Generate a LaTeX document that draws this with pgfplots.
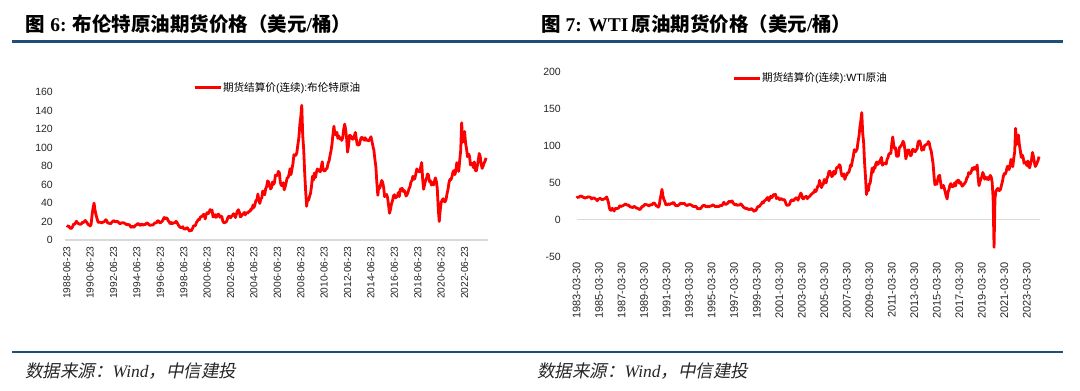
\documentclass[border=0pt]{standalone}
\usepackage{fontspec}
\setmainfont{Liberation Sans}
\newfontfamily\cjk{Noto Sans CJK SC}
\newfontfamily\cjksl{Noto Sans CJK SC}[FakeSlant=0.2]
\newfontfamily\tnr{Liberation Serif}
\usepackage{pgfplots}
\usepackage{pgfplotstable}
\pgfplotsset{compat=1.18}
\definecolor{hdrblue}{RGB}{31,78,121}
\definecolor{zgray}{RGB}{217,217,217}

% Brent monthly, from 1988-06
\pgfplotstableread[row sep=\\]{v\\%
15.7\\14.9\\15.1\\13.6\\12.5\\12.8\\14.6\\%
17.2\\16.9\\18.7\\20.3\\18.6\\17.7\\17.3\\16.9\\17.6\\19.0\\19.0\\19.9\\%
21.2\\19.8\\18.4\\16.6\\16.4\\15.1\\17.2\\27.2\\34.9\\40.0\\32.3\\27.3\\%
23.6\\19.5\\19.1\\19.2\\19.2\\18.3\\19.4\\19.6\\20.2\\22.0\\21.0\\18.5\\%
18.2\\18.0\\17.6\\18.9\\19.9\\21.1\\20.2\\19.7\\20.2\\20.1\\19.1\\18.2\\%
17.5\\18.5\\18.7\\18.6\\18.4\\17.6\\16.8\\16.8\\16.3\\16.9\\15.3\\13.8\\%
14.9\\14.1\\13.9\\15.4\\16.3\\16.8\\17.9\\17.2\\15.9\\16.2\\17.2\\16.0\\%
16.6\\17.0\\16.9\\18.6\\18.1\\17.1\\15.9\\16.0\\16.4\\16.1\\17.0\\18.2\\%
18.6\\18.6\\20.4\\20.9\\19.1\\18.5\\19.6\\20.5\\22.6\\24.5\\23.0\\23.8\\%
23.5\\20.9\\19.6\\17.8\\19.1\\17.6\\18.4\\18.6\\18.6\\20.2\\19.2\\17.1\\%
15.1\\14.1\\13.4\\13.5\\14.4\\12.1\\12.0\\11.9\\13.4\\12.9\\11.0\\9.8\\%
11.1\\10.3\\12.5\\15.3\\15.3\\15.9\\19.1\\20.3\\22.5\\22.0\\24.6\\25.5\\%
25.5\\27.8\\27.5\\22.8\\27.6\\29.7\\28.5\\30.0\\33.0\\31.0\\32.5\\25.0\\%
25.6\\27.5\\24.5\\25.6\\28.1\\27.7\\24.6\\25.6\\25.6\\20.5\\18.8\\18.7\\%
19.4\\20.3\\23.7\\25.7\\25.4\\24.1\\25.7\\26.6\\28.4\\27.5\\24.3\\28.0\\%
31.2\\32.8\\30.4\\25.0\\25.8\\27.6\\28.4\\29.8\\27.1\\29.6\\28.8\\29.8\\%
31.2\\30.9\\33.8\\33.4\\37.9\\35.2\\38.4\\43.0\\43.2\\49.8\\43.1\\39.6\\%
44.5\\45.5\\53.1\\51.9\\49.0\\55.6\\57.9\\64.0\\62.9\\58.5\\55.3\\56.8\\%
62.9\\60.2\\62.1\\70.3\\70.0\\69.8\\74.4\\73.0\\62.7\\58.9\\59.1\\62.1\\%
54.3\\57.8\\62.1\\67.4\\67.5\\71.3\\77.2\\70.8\\77.1\\82.8\\92.5\\91.5\\%
91.9\\94.8\\103.3\\110.4\\124.6\\133.5\\146.0\\113.2\\98.1\\72.8\\53.2\\36.5\\%
44.9\\43.2\\47.3\\50.6\\58.1\\69.1\\64.9\\72.5\\67.7\\73.2\\77.0\\74.7\\%
76.2\\73.8\\78.8\\84.8\\75.9\\74.8\\75.2\\77.0\\77.8\\83.0\\85.6\\91.5\\%
96.5\\103.7\\114.6\\123.3\\114.5\\113.9\\116.7\\110.2\\112.8\\109.6\\110.5\\107.9\\%
110.7\\119.7\\125.5\\119.8\\110.3\\95.2\\102.6\\113.4\\112.9\\111.7\\109.1\\109.5\\%
112.9\\116.5\\109.2\\102.9\\103.0\\103.1\\107.7\\110.9\\111.2\\109.5\\108.1\\110.8\\%
108.1\\108.9\\107.5\\107.8\\109.5\\111.9\\106.8\\101.6\\97.1\\87.4\\79.4\\62.3\\%
48.4\\58.1\\56.0\\60.4\\64.5\\62.3\\56.8\\47.0\\48.5\\49.3\\45.9\\38.0\\%
29.0\\33.3\\39.1\\42.3\\47.6\\49.0\\45.6\\46.6\\47.0\\51.4\\47.1\\54.9\\%
55.5\\55.9\\52.6\\53.8\\51.6\\47.6\\49.2\\51.9\\55.5\\57.7\\62.9\\64.4\\%
69.1\\65.7\\66.7\\71.8\\77.0\\74.4\\74.3\\73.8\\79.1\\84.0\\65.9\\55.0\\%
60.2\\64.4\\67.0\\71.6\\70.3\\63.0\\64.2\\59.5\\62.3\\59.6\\63.2\\67.3\\%
63.6\\55.5\\33.7\\20.0\\32.1\\40.8\\43.2\\44.7\\41.9\\41.4\\44.0\\50.2\\%
55.0\\62.3\\65.7\\65.3\\68.3\\73.4\\75.2\\70.8\\74.6\\83.7\\81.1\\74.3\\%
86.5\\97.1\\127.0\\105.8\\112.0\\117.5\\105.1\\98.6\\90.2\\93.1\\90.9\\81.3\\%
83.1\\82.7\\78.4\\84.6\\75.5\\74.9\\80.1\\86.2\\93.7\\90.6\\82.0\\77.6\\%
80.1\\83.5\\85.4\\89.0\\%
}\brent

% WTI monthly, from 1983-03
\pgfplotstableread[row sep=\\]{v\\%
29.3\\30.6\\30.0\\31.0\\31.7\\31.9\\31.1\\30.4\\29.8\\29.2\\%
29.7\\30.1\\30.8\\30.6\\30.5\\29.9\\28.0\\29.3\\29.4\\28.8\\28.1\\27.3\\%
25.6\\27.3\\28.2\\28.8\\27.9\\27.1\\27.3\\27.8\\28.3\\29.5\\30.8\\27.2\\%
22.9\\15.5\\12.6\\12.8\\15.4\\13.5\\11.6\\15.1\\14.9\\14.9\\15.2\\16.1\\%
18.7\\17.7\\18.3\\18.6\\19.4\\20.0\\21.4\\20.3\\19.5\\19.8\\18.9\\17.2\\%
17.1\\16.7\\16.2\\17.9\\17.4\\16.5\\15.5\\15.5\\14.5\\13.8\\14.0\\16.3\\%
18.0\\17.9\\19.4\\21.0\\20.0\\20.0\\19.6\\18.5\\19.6\\20.1\\19.8\\21.1\\%
22.6\\22.1\\20.3\\18.6\\18.2\\16.9\\18.6\\27.2\\33.7\\41.0\\32.3\\27.3\\%
25.0\\20.5\\19.9\\20.8\\21.2\\20.2\\21.4\\21.7\\21.9\\23.2\\22.5\\19.5\\%
18.8\\19.0\\18.9\\20.2\\20.9\\22.4\\21.8\\21.4\\21.9\\21.7\\20.3\\19.4\\%
19.1\\20.1\\20.3\\20.3\\19.9\\19.1\\17.9\\18.0\\17.5\\18.1\\16.7\\14.5\\%
15.0\\14.8\\14.7\\16.4\\17.9\\19.1\\19.7\\18.4\\17.4\\17.7\\18.1\\17.2\\%
18.0\\18.4\\18.5\\19.9\\19.7\\18.4\\17.3\\17.9\\18.0\\17.5\\18.1\\19.0\\%
18.9\\19.1\\21.3\\23.5\\21.2\\20.4\\21.3\\22.0\\24.0\\24.9\\23.7\\25.2\\%
25.1\\22.2\\20.9\\19.7\\20.8\\19.3\\19.7\\19.9\\19.8\\21.3\\20.2\\18.3\\%
16.7\\16.1\\15.0\\15.4\\14.9\\13.7\\14.1\\13.4\\15.0\\14.4\\12.9\\11.3\\%
12.5\\12.0\\14.7\\17.3\\17.8\\17.9\\20.1\\21.3\\23.9\\22.6\\25.0\\26.1\\%
27.2\\29.4\\29.9\\25.7\\28.8\\31.8\\29.7\\31.3\\33.9\\33.1\\34.4\\28.5\\%
29.6\\29.6\\27.2\\27.4\\28.6\\27.6\\26.5\\27.5\\25.9\\22.2\\19.6\\19.4\\%
19.7\\20.7\\24.5\\26.2\\27.0\\25.5\\26.9\\28.4\\29.7\\28.9\\26.3\\29.4\\%
32.9\\35.9\\33.6\\28.3\\28.1\\30.7\\30.8\\31.6\\28.3\\30.3\\31.1\\32.1\\%
34.3\\34.7\\36.7\\36.7\\40.3\\38.0\\40.7\\44.9\\45.9\\53.1\\48.5\\43.3\\%
46.8\\48.0\\54.3\\53.0\\49.8\\56.3\\58.7\\65.0\\65.6\\62.4\\58.3\\59.4\\%
65.5\\61.6\\62.9\\69.7\\70.9\\70.9\\74.4\\73.0\\63.8\\58.9\\59.1\\62.0\\%
54.5\\59.3\\60.4\\63.9\\63.5\\67.5\\74.1\\72.4\\79.9\\85.8\\94.8\\91.7\\%
93.0\\95.4\\105.4\\112.6\\125.4\\134.0\\145.0\\116.7\\104.1\\76.6\\57.3\\34.0\\%
41.7\\39.1\\48.0\\49.8\\59.2\\69.7\\64.2\\71.1\\69.5\\75.8\\78.1\\74.5\\%
78.3\\76.4\\81.2\\84.3\\73.7\\75.3\\76.3\\76.6\\75.2\\81.9\\84.3\\89.2\\%
89.6\\89.7\\102.9\\112.0\\101.3\\96.3\\97.3\\86.3\\85.5\\86.3\\97.2\\98.6\\%
100.3\\102.2\\106.2\\103.3\\94.7\\82.3\\87.9\\94.1\\94.5\\89.5\\86.5\\87.9\\%
94.8\\95.3\\92.9\\92.0\\94.5\\95.8\\104.7\\106.6\\106.3\\100.5\\93.9\\97.6\\%
94.6\\100.8\\100.8\\102.1\\102.2\\105.8\\103.6\\96.5\\93.2\\84.4\\75.8\\59.3\\%
47.2\\50.6\\47.8\\54.5\\59.3\\59.8\\50.9\\42.9\\45.5\\46.2\\42.4\\37.2\\%
31.7\\28.0\\37.6\\41.0\\46.7\\48.8\\44.7\\44.7\\45.2\\49.8\\45.7\\52.0\\%
52.5\\53.5\\49.3\\51.1\\48.5\\45.2\\46.6\\48.0\\49.8\\51.6\\56.6\\57.9\\%
63.7\\62.2\\62.7\\66.3\\70.0\\67.9\\71.0\\68.1\\70.2\\74.0\\57.0\\46.0\\%
51.4\\55.0\\58.2\\63.9\\60.8\\54.7\\57.4\\54.8\\57.0\\54.0\\57.0\\59.9\\%
57.5\\50.5\\29.2\\-37.6\\28.6\\38.3\\40.7\\42.3\\39.6\\39.4\\41.4\\47.0\\%
52.1\\59.0\\62.4\\61.7\\65.2\\71.4\\72.5\\67.7\\71.6\\81.5\\79.2\\71.7\\%
83.2\\91.6\\123.7\\101.6\\109.6\\114.6\\101.6\\93.7\\84.3\\87.6\\84.4\\76.4\\%
78.1\\76.8\\73.3\\79.4\\71.6\\70.3\\76.1\\81.4\\91.0\\85.6\\77.7\\71.9\\%
74.1\\77.2\\80.7\\85.4\\%
}\wti

\pgfplotsset{
  oilaxis/.style={
    scale only axis,
    clip=false,
    axis line style={draw=none},
    major tick length=0pt,
    tick style={draw=none},
    /pgf/number format/assume math mode=true,
    yticklabel style={font=\fontsize{10.5}{12}\selectfont, color=black!85, anchor=east, inner sep=0pt},
    xticklabel style={rotate=90, anchor=east, inner sep=0pt, color=black!85},
    legend style={draw=none, fill=none, inner sep=0pt, font=\fontsize{10.6}{12}\selectfont, nodes={inner sep=1pt}},
    legend cell align=left,
    legend image code/.code={\draw[#1, line width=3pt] (0pt,0pt) -- (26pt,0pt);},
  }
}

\begin{document}
\begin{tikzpicture}
\useasboundingbox (0,0) rectangle (1080pt,391pt);

% header / footer rules
\draw[hdrblue, line width=3pt] (12pt,349pt) -- (1063pt,349pt);
\draw[hdrblue, line width=2.2pt] (12pt,39.3pt) -- (1063pt,39.3pt);

% titles
\node[anchor=west, inner sep=0pt] at (25.7pt,367pt) {\fontsize{19.5}{22}\selectfont
  {\cjk\bfseries 图}\hspace{5pt}{\tnr\bfseries 6:}\hspace{6pt}{\cjk\bfseries 布伦特原油期货价格（美元}{\tnr\bfseries /}{\cjk\bfseries 桶）}};
\node[anchor=west, inner sep=0pt] at (541pt,367pt) {\fontsize{19.5}{22}\selectfont
  {\cjk\bfseries 图}\hspace{5pt}{\tnr\bfseries 7: WTI}\hspace{3pt}{\cjk\bfseries 原油期货价格（美元}{\tnr\bfseries /}{\cjk\bfseries 桶）}};

% sources
\node[anchor=west, inner sep=0pt, color=black!85] at (25pt,20.3pt) {\fontsize{17.5}{20}\selectfont\cjksl 数据来源：{\tnr\itshape Wind}，中信建投};
\node[anchor=west, inner sep=0pt, color=black!85] at (537pt,20.3pt) {\fontsize{17.5}{20}\selectfont\cjksl 数据来源：{\tnr\itshape Wind}，中信建投};

% Brent
\begin{axis}[oilaxis,
  at={(64.8pt,151pt)}, anchor=south west,
  width=423.2pt, height=147.7pt,
  xmin=-2, xmax=432, ymin=0, ymax=160,
  ytick={0,20,...,160},
  yticklabel shift=11.8pt,
  xtick={0,24,...,408},
  xticklabels={1988-06-23,1990-06-23,1992-06-23,1994-06-23,1996-06-23,1998-06-23,2000-06-23,2002-06-23,2004-06-23,2006-06-23,2008-06-23,2010-06-23,2012-06-23,2014-06-23,2016-06-23,2018-06-23,2020-06-23,2022-06-23},
  xticklabel style={font=\fontsize{10.2}{12}\selectfont},
  xticklabel shift=6.4pt,
  legend style={at={(axis description cs:0.3025,1.034)}, anchor=west},
]
\addplot[zgray, line width=1.5pt, forget plot] coordinates {(-2,0) (432,0)};
\addplot[red, line width=2.8pt, line join=round] table[x expr=\coordindex, y=v] {\brent};
\addlegendentry{{\cjk 期货结算价}({\cjk 连续}):{\cjk 布伦特原油}}
\end{axis}

% WTI
\begin{axis}[oilaxis,
  at={(576.6pt,134.5pt)}, anchor=south west,
  width=463.4pt, height=184.5pt,
  xmin=0, xmax=494, ymin=-50, ymax=200,
  ytick={-50,0,50,100,150,200},
  yticklabel shift=15.6pt,
  xtick={0,24,...,480},
  xticklabels={1983-03-30,1985-03-30,1987-03-30,1989-03-30,1991-03-30,1993-03-30,1995-03-30,1997-03-30,1999-03-30,2001-03-30,2003-03-30,2005-03-30,2007-03-30,2009-03-30,2011-03-30,2013-03-30,2015-03-30,2017-03-30,2019-03-30,2021-03-30,2023-03-30},
  xticklabel style={font=\fontsize{11}{12}\selectfont},
  xticklabel shift=5.5pt,
  legend style={at={(axis description cs:0.335,0.967)}, anchor=west},
]
\addplot[zgray, line width=1.5pt, forget plot] coordinates {(0,0) (494,0)};
\addplot[red, line width=2.8pt, line join=round] table[x expr=\coordindex, y=v] {\wti};
\addlegendentry{{\cjk 期货结算价}({\cjk 连续}):WTI{\cjk 原油}}
\end{axis}
\end{tikzpicture}
\end{document}
